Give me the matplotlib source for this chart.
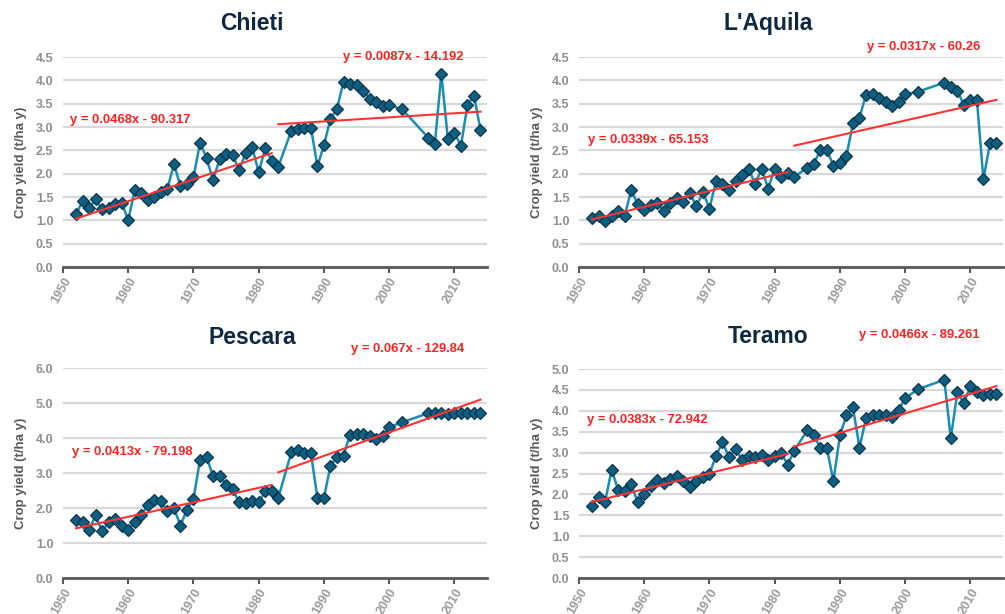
import numpy as np
import matplotlib
matplotlib.use('Agg')
import matplotlib.pyplot as plt

plt.rcParams['font.family'] = ['Liberation Sans', 'DejaVu Sans']

# years with observations (1984 and 2001, 2003-2005 missing)
years = [1952, 1953, 1954, 1955, 1956, 1957, 1958, 1959, 1960, 1961,
         1962, 1963, 1964, 1965, 1966, 1967, 1968, 1969, 1970, 1971,
         1972, 1973, 1974, 1975, 1976, 1977, 1978, 1979, 1980, 1981,
         1982, 1983, 1985, 1986, 1987, 1988, 1989, 1990, 1991, 1992,
         1993, 1994, 1995, 1996, 1997, 1998, 1999, 2000, 2002, 2006,
         2007, 2008, 2009, 2010, 2011, 2012, 2013, 2014]

chieti = [1.13, 1.42, 1.27, 1.45, 1.24, 1.27, 1.35, 1.38, 1.00, 1.66,
          1.59, 1.43, 1.49, 1.61, 1.67, 2.21, 1.74, 1.79, 1.92, 2.66,
          2.34, 1.86, 2.31, 2.42, 2.40, 2.08, 2.44, 2.57, 2.03, 2.55,
          2.28, 2.15, 2.92, 2.96, 2.99, 2.99, 2.16, 2.61, 3.18, 3.39,
          3.97, 3.92, 3.90, 3.77, 3.61, 3.54, 3.46, 3.47, 3.38, 2.77,
          2.64, 4.14, 2.74, 2.88, 2.59, 3.47, 3.67, 2.94]

laquila = [1.04, 1.09, 0.98, 1.09, 1.20, 1.09, 1.65, 1.35, 1.23, 1.33,
           1.38, 1.20, 1.38, 1.47, 1.40, 1.58, 1.30, 1.61, 1.25, 1.84,
           1.78, 1.65, 1.85, 1.97, 2.11, 1.78, 2.11, 1.68, 2.11, 1.93,
           2.01, 1.93, 2.13, 2.21, 2.51, 2.51, 2.17, 2.24, 2.38, 3.08,
           3.20, 3.69, 3.71, 3.62, 3.53, 3.46, 3.53, 3.70, 3.76, 3.95,
           3.85, 3.78, 3.47, 3.58, 3.58, 1.88, 2.65, 2.65]

pescara = [1.67, 1.60, 1.38, 1.79, 1.33, 1.60, 1.69, 1.48, 1.38, 1.59,
           1.79, 2.10, 2.22, 2.19, 1.92, 2.00, 1.50, 1.95, 2.26, 3.38,
           3.45, 2.92, 2.92, 2.67, 2.55, 2.16, 2.14, 2.19, 2.16, 2.48,
           2.48, 2.29, 3.59, 3.67, 3.57, 3.57, 2.29, 2.29, 3.21, 3.46,
           3.50, 4.10, 4.11, 4.11, 4.07, 3.97, 4.07, 4.31, 4.45, 4.71,
           4.71, 4.71, 4.70, 4.71, 4.71, 4.71, 4.71, 4.71]

teramo = [1.73, 1.95, 1.82, 2.59, 2.11, 2.07, 2.25, 1.81, 2.01, 2.19,
          2.35, 2.27, 2.36, 2.45, 2.33, 2.17, 2.33, 2.41, 2.49, 2.92,
          3.25, 2.89, 3.08, 2.83, 2.92, 2.89, 2.95, 2.83, 2.92, 2.99,
          2.71, 3.05, 3.53, 3.42, 3.11, 3.12, 2.31, 3.41, 3.90, 4.08,
          3.12, 3.82, 3.89, 3.90, 3.90, 3.86, 4.02, 4.30, 4.52, 4.74,
          3.34, 4.44, 4.18, 4.59, 4.46, 4.39, 4.40, 4.40]

# linear trends: (slope, intercept, first year, last year)
trend_chieti = [(0.0468, -90.317, 1952, 1982), (0.0087, -14.192, 1983, 2014)]
trend_laquila = [(0.0339, -65.153, 1952, 1982), (0.0317, -60.26, 1983, 2014)]
trend_pescara = [(0.0413, -79.198, 1952, 1982), (0.067, -129.84, 1983, 2014)]
trend_teramo = [(0.0383, -72.942, 1952, 1982), (0.0466, -89.261, 1983, 2014)]

panels = [
    # name, values, trends, ymax, ystep, axes rect, title pos, equation label positions
    ('Chieti', chieti, trend_chieti, 4.5, 0.5, [0.0627, 0.5651, 0.4219, 0.3420],
     (0.251, 0.961), [(1951.1, 3.15), (1992.9, 4.50)]),
    ("L'Aquila", laquila, trend_laquila, 4.5, 0.5, [0.5761, 0.5651, 0.4219, 0.3420],
     (0.764, 0.961), [(1951.4, 2.72), (1994.2, 4.71)]),
    ('Pescara', pescara, trend_pescara, 6.0, 1.0, [0.0627, 0.0586, 0.4219, 0.3420],
     (0.251, 0.451), [(1951.4, 3.60), (1994.1, 6.54)]),
    ('Teramo', teramo, trend_teramo, 5.0, 0.5, [0.5761, 0.0586, 0.4219, 0.3404],
     (0.764, 0.452), [(1951.2, 3.78), (1992.9, 5.81)]),
]

fig = plt.figure(figsize=(10.05, 6.14), dpi=100)

for name, vals, trends, ymax, ystep, rect, tpos, lpos in panels:
    ax = fig.add_axes(rect)
    ax.set_xlim(1950, 2015)
    ax.set_ylim(0, ymax)
    ax.set_yticks(np.arange(0, ymax + ystep / 2, ystep))
    ax.yaxis.set_major_formatter(matplotlib.ticker.FormatStrFormatter('%.1f'))
    ax.set_xticks([1950, 1960, 1970, 1980, 1990, 2000, 2010])
    ax.grid(axis='y', color='#d9d9d9', linewidth=1.6)
    ax.set_axisbelow(True)
    for s in ['top', 'right', 'left']:
        ax.spines[s].set_visible(False)
    ax.spines['bottom'].set_color('#595959')
    ax.spines['bottom'].set_linewidth(2)
    ax.tick_params(axis='y', length=0, labelsize=9, labelcolor='#8f8f8f', pad=7)
    ax.tick_params(axis='x', length=4, width=1.5, color='#595959', labelsize=9,
                   labelcolor='#9a9a9a', pad=2)
    for lab in ax.get_yticklabels():
        lab.set_fontweight('bold')
    for lab in ax.get_xticklabels():
        lab.set_rotation(60)
        lab.set_ha('right')
        lab.set_rotation_mode('anchor')
        lab.set_fontweight('bold')
    ax.set_ylabel('Crop yield (t/ha y)', fontsize=9.5, fontweight='bold',
                  color='#595959', labelpad=6)

    ax.plot(years, vals, color='#1b8db0', linewidth=1.8, marker='D', markersize=6,
            markerfacecolor='#0f5f80', markeredgecolor='#0a3550', markeredgewidth=0.9,
            zorder=3)

    for (m, b, x0, x1), (lx, ly) in zip(trends, lpos):
        xs = np.array([x0, x1])
        ax.plot(xs, m * xs + b, color='#ff3333', linewidth=1.5, zorder=4)
        sign = '-' if b < 0 else '+'
        ax.text(lx, ly, f'y = {m:g}x {sign} {abs(b):g}', color='#ff2020',
                fontsize=9.4, fontweight='bold', va='center', ha='left', clip_on=False)

    fig.text(tpos[0], tpos[1], name, ha='center', va='center', fontsize=16.5,
             fontweight='bold', color='#0e2841')

fig.savefig('out.png', dpi=100, facecolor='white')
